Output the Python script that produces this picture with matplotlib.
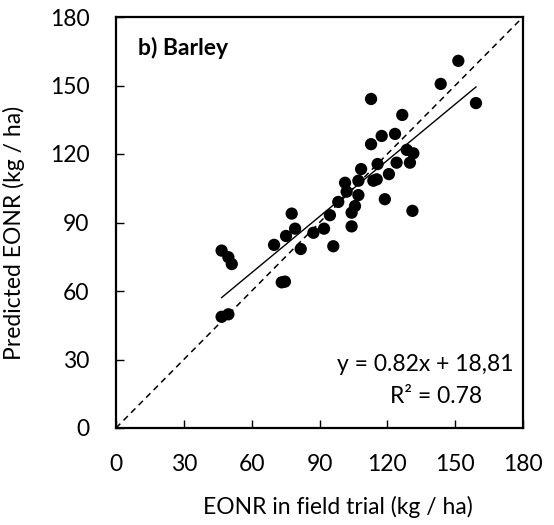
import matplotlib
matplotlib.use("Agg")
import matplotlib.pyplot as plt
import numpy as np

plt.rcParams['font.family'] = ['Lato', 'DejaVu Sans']

# Data: EONR in field trial (x) vs predicted EONR (y), kg/ha
eonr_field = [46.7, 49.7, 51.2, 73.3, 74.7, 46.7, 49.7, 69.9, 75.2, 77.7,
              79.2, 81.7, 87.3, 92.0, 94.6, 96.1, 98.3, 151.4, 143.6, 159.2,
              112.8, 126.6, 117.5, 123.4, 112.8, 128.6, 131.5, 130.0, 124.1, 115.7,
              120.7, 108.4, 113.8, 115.3, 118.9, 131.1, 101.3, 107.2, 102.0, 107.2,
              105.7, 104.2, 104.2]
eonr_pred = [77.7, 74.8, 71.8, 63.8, 64.1, 48.7, 49.8, 80.2, 84.1, 93.9,
             87.3, 78.4, 85.5, 87.3, 93.2, 79.6, 99.0, 160.8, 150.7, 142.3,
             144.1, 137.1, 127.9, 128.8, 124.3, 121.8, 120.3, 116.2, 116.2, 115.6,
             111.2, 113.4, 108.3, 108.9, 100.2, 95.1, 107.4, 108.3, 103.5, 102.0,
             97.2, 94.3, 88.3]
slope = 0.82
intercept = 18.81
ticks = [0, 30, 60, 90, 120, 150, 180]
panel_label = "b) Barley"
eq_text = "y = 0.82x + 18,81"
r2_text = "R² = 0.78"

fig = plt.figure(figsize=(5.54, 5.25), dpi=100)
ax = fig.add_axes([116/554, 1-428/525, 407/554, 411/525])

x = np.array(eonr_field)
y = np.array(eonr_pred)

ax.plot([0, 180], [0, 180], linestyle=(0, (4, 3)), color='black', linewidth=1.1, zorder=1)
xf = np.array([x.min(), x.max()])
ax.plot(xf, slope * xf + intercept, color='black', linewidth=1.0, zorder=2)
ax.scatter(x, y, s=78, color='black', edgecolors='none', zorder=3)

ax.set_xlim(0, 180)
ax.set_ylim(0, 180)
ax.set_xticks(ticks)
ax.set_yticks(ticks)
ax.tick_params(direction='in', length=6, width=1.0, labelsize=16.5, pad=19, colors='black')
for s in ax.spines.values():
    s.set_linewidth(1.6)
    s.set_color('black')

ax.set_xlabel("EONR in field trial (kg / ha)", fontsize=16.5)
ax.set_ylabel("Predicted EONR (kg / ha)", fontsize=16.5)
ax.xaxis.set_label_coords(0.544, -0.165)
ax.yaxis.set_label_coords(-0.224, 0.474)

ax.text(9.7, 166.4, panel_label, fontsize=16.5, fontweight='bold', ha='left', va='center')
ax.text(175.6, 27.6, eq_text, fontsize=16.5, ha='right', va='center')
ax.text(141.5, 13.6, r2_text, fontsize=16.5, ha='center', va='center')

fig.savefig("out.png", dpi=100)
